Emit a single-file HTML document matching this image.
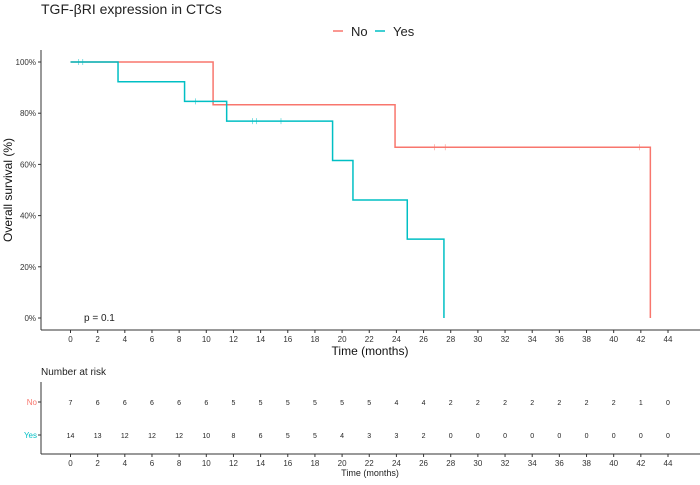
<!DOCTYPE html>
<html><head><meta charset="utf-8"><style>
body{margin:0;background:#fff;}
svg{font-family:"Liberation Sans",sans-serif;}
</style></head><body>
<svg id="chart" width="700" height="480"></svg>
<script>
const groups=["No","Yes"];
const colors=["#F8766D","#00BFC4"];
const noTimes=[0,10.5,23.9,42.7];
const noSurv=[100,83.3,66.7,0];
const noCensT=[26.8,27.6,41.9];
const yesTimes=[0,3.5,8.4,11.5,19.3,20.8,24.8,27.5];
const yesSurv=[100,92.3,84.6,76.9,61.5,46.1,30.8,0];
const yesCensT=[0.6,0.9,9.2,13.4,13.7,15.5];
const xTicks=[0,2,4,6,8,10,12,14,16,18,20,22,24,26,28,30,32,34,36,38,40,42,44];
const yTicks=[0,20,40,60,80,100];
const riskNo=[7,6,6,6,6,6,5,5,5,5,5,5,4,4,2,2,2,2,2,2,2,1,0];
const riskYes=[14,13,12,12,12,10,8,6,5,5,4,3,3,2,0,0,0,0,0,0,0,0,0];

const NS="http://www.w3.org/2000/svg";
const svg=document.getElementById('chart');
function el(t,a,txt){const e=document.createElementNS(NS,t);for(const k in a)e.setAttribute(k,a[k]);if(txt!==undefined)e.textContent=txt;svg.appendChild(e);return e;}
const xS=t=>70.5+t*(597.5/44);
const yS=p=>318-p*2.56;

let e;
e=el('text',{x:41,y:14,'font-size':14,fill:'#222'},'TGF-βRI expression in CTCs');

// legend
groups.forEach((g,i)=>{const lx=[333,375][i];
 e=el('line',{x1:lx,y1:31,x2:lx+10,y2:31,stroke:colors[i],'stroke-width':1.5});
 
 e=el('text',{x:lx+18,y:36,'font-size':13,fill:'#222'},g);
 
});
// axes
e=el('line',{x1:41,y1:50,x2:41,y2:330,stroke:'#333','stroke-width':1});

e=el('line',{x1:41,y1:330,x2:700,y2:330,stroke:'#333','stroke-width':1});

yTicks.forEach(v=>{
 el('line',{x1:38,y1:yS(v),x2:41,y2:yS(v),stroke:'#333'});
 e=el('text',{x:36,y:yS(v)+3,'font-size':8,'text-anchor':'end',fill:'#333'},v+'%');
 
});
xTicks.forEach(v=>{
 el('line',{x1:xS(v),y1:330,x2:xS(v),y2:333,stroke:'#333'});
 e=el('text',{x:xS(v),y:342,'font-size':8,'text-anchor':'middle',fill:'#333'},v);
 
});
e=el('text',{x:370,y:355,'font-size':12,'text-anchor':'middle',fill:'#111'},'Time (months)');

e=el('text',{x:0,y:0,'font-size':12,'text-anchor':'middle',fill:'#111',transform:'translate(12,190) rotate(-90)'},'Overall survival (%)');

e=el('text',{x:84,y:321,'font-size':10,fill:'#222'},'p = 0.1');

// curves
function stepPath(ts,ss){let d='M'+xS(ts[0])+','+yS(ss[0]);for(let i=1;i<ts.length;i++){d+=' H'+xS(ts[i])+' V'+yS(ss[i]);}return d;}
function survAt(ts,ss,t){let s=ss[0];for(let i=0;i<ts.length;i++)if(ts[i]<=t)s=ss[i];return s;}
[[noTimes,noSurv,noCensT],[yesTimes,yesSurv,yesCensT]].forEach((g,i)=>{
 e=el('path',{d:stepPath(g[0],g[1]),fill:'none',stroke:colors[i],'stroke-width':1.5});
 
 g[2].forEach(t=>{const y=yS(survAt(g[0],g[1],t));
  e=el('line',{x1:xS(t),y1:y-3,x2:xS(t),y2:y+3,stroke:colors[i],'stroke-width':0.8,opacity:0.6});
  
 });
});
// risk table
e=el('text',{x:41,y:375,'font-size':10,fill:'#222'},'Number at risk');

el('line',{x1:41,y1:382,x2:41,y2:454,stroke:'#333'});
el('line',{x1:41,y1:454,x2:700,y2:454,stroke:'#333'});
[[riskNo,402],[riskYes,435]].forEach((r,i)=>{
 el('line',{x1:38,y1:r[1],x2:41,y2:r[1],stroke:'#333'});
 e=el('text',{x:37,y:r[1]+3,'font-size':8,'text-anchor':'end',fill:colors[i]},groups[i]);
 
 r[0].forEach((v,j)=>{e=el('text',{x:xS(xTicks[j]),y:r[1]+3,'font-size':7,'text-anchor':'middle',fill:'#222'},v);
  });
});
xTicks.forEach(v=>{
 el('line',{x1:xS(v),y1:454,x2:xS(v),y2:457,stroke:'#333'});
 e=el('text',{x:xS(v),y:466,'font-size':8,'text-anchor':'middle',fill:'#333'},v);
 
});
e=el('text',{x:370,y:476,'font-size':9,'text-anchor':'middle',fill:'#222'},'Time (months)');

</script>
</body></html>
